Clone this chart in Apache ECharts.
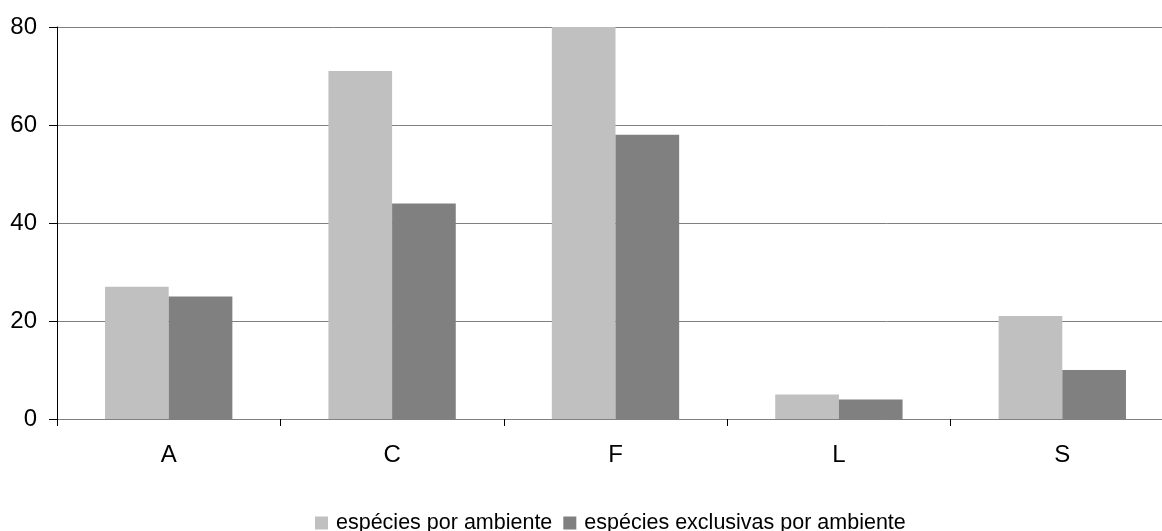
<!DOCTYPE html>
<html><head><meta charset="utf-8">
<script src="https://cdn.jsdelivr.net/npm/echarts@6/dist/echarts.min.js"></script>
<style>html,body{margin:0;padding:0;background:#fff}#c{width:1162px;height:531px}</style>
</head><body><div id="c"></div>
<script>
const categories = ['A', 'C', 'F', 'L', 'S'];
const seriesNames = ['espécies por ambiente', 'espécies exclusivas por ambiente'];
const porAmbiente = [27, 71, 80, 5, 21];
const exclusivas = [25, 44, 58, 4, 10];
const yTicks = [0, 20, 40, 60, 80];

const chart = echarts.init(document.getElementById('c'), null, {renderer: 'canvas'});
const font = 'Liberation Sans, Arial, sans-serif';
chart.setOption({
  animation: false,
  backgroundColor: '#ffffff',
  grid: {left: 57, width: 1117, top: 27, bottom: 112, outerBoundsMode: 'none', containLabel: false},
  legend: {
    top: 507, left: 310, itemWidth: 13, itemHeight: 13, itemGap: 11,
    icon: 'rect',
    textStyle: {fontFamily: font, fontSize: 21.5, color: '#000', padding: [0, 0, 0, 3]},
    data: seriesNames
  },
  xAxis: {
    type: 'category', data: categories,
    axisLine: {lineStyle: {color: '#808080', width: 1}},
    axisTick: {show: true, length: 7, lineStyle: {color: '#000'}},
    axisLabel: {fontFamily: font, fontSize: 24, color: '#000', margin: 24}
  },
  yAxis: {
    type: 'value', min: yTicks[0], max: yTicks[yTicks.length - 1], interval: 20,
    axisLine: {show: true, lineStyle: {color: '#000', width: 1}},
    axisTick: {show: true, length: 8, lineStyle: {color: '#000'}},
    axisLabel: {fontFamily: font, fontSize: 24, color: '#000', margin: 20},
    splitLine: {lineStyle: {color: '#7f7f7f', width: 1}}
  },
  series: [
    {name: seriesNames[0], type: 'bar', data: porAmbiente, barGap: '0%', barCategoryGap: '43%',
     itemStyle: {color: '#c0c0c0'}},
    {name: seriesNames[1], type: 'bar', data: exclusivas, barGap: '0%', barCategoryGap: '43%',
     itemStyle: {color: '#808080'}}
  ]
});
</script></body></html>
